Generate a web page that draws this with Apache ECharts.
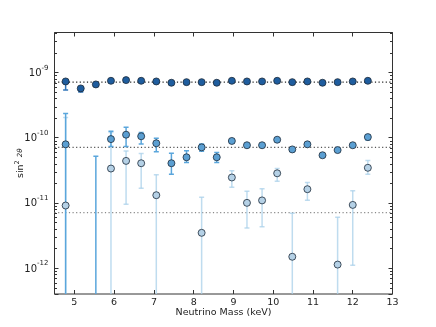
<!DOCTYPE html>
<html><head><meta charset="utf-8">
<script src="https://cdn.jsdelivr.net/npm/echarts@6/dist/echarts.min.js"></script>
<style>html,body{margin:0;padding:0;background:#fff}#c{width:436px;height:327px}</style>
</head><body><div id="c"></div>
<script>
const xValues = [4.78,5.16,5.54,5.92,6.30,6.68,7.06,7.44,7.82,8.20,8.58,8.96,9.34,9.72,10.10,10.48,10.86,11.24,11.62,12.00,12.38];

const darkY  = [7.28e-10,5.69e-10,6.55e-10,7.45e-10,7.63e-10,7.45e-10,7.28e-10,6.95e-10,7.1e-10,7.1e-10,6.95e-10,7.45e-10,7.28e-10,7.28e-10,7.45e-10,7.1e-10,7.28e-10,6.95e-10,7.1e-10,7.28e-10,7.45e-10];
const darkLo = [5.4e-10,5.0e-10,null,null,null,null,null,null,null,null,null,null,null,null,null,null,null,null,null,null,null];
const darkHi = [7.4e-10,6.0e-10,null,null,null,null,null,null,null,null,null,null,null,null,null,null,null,null,null,null,null];

const midY  = [7.9e-11,null,null,9.5e-11,1.11e-10,1.05e-10,8.2e-11,4.05e-11,5.0e-11,7.1e-11,5.0e-11,8.9e-11,7.65e-11,7.65e-11,9.3e-11,6.6e-11,7.9e-11,5.37e-11,6.45e-11,7.65e-11,1.02e-10];
const midLo = [1e-13,null,1e-13,7.3e-11,7.3e-11,8.0e-11,6.1e-11,2.75e-11,4.15e-11,6.2e-11,4.15e-11,8.3e-11,null,null,null,null,null,5.0e-11,null,null,9.2e-11];
const midHi = [2.35e-10,null,5.2e-11,1.25e-10,1.44e-10,1.2e-10,9.8e-11,5.75e-11,6.3e-11,8.0e-11,5.9e-11,9.5e-11,null,null,null,null,null,5.7e-11,null,null,1.1e-10];

const lightY  = [9.1e-12,null,null,3.36e-11,4.4e-11,4.05e-11,1.31e-11,null,null,3.47e-12,null,2.45e-11,1.0e-11,1.09e-11,2.84e-11,1.49e-12,1.62e-11,null,1.13e-12,9.3e-12,3.45e-11];
const lightLo = [1e-13,null,null,1e-13,9.5e-12,1.67e-11,1e-13,null,null,1e-13,null,1.73e-11,4.1e-12,4.3e-12,2.15e-11,1e-13,1.1e-11,null,1e-13,1.1e-12,2.75e-11];
const lightHi = [2.04e-10,null,null,1.2e-10,6.25e-11,5.7e-11,2.69e-11,null,null,1.22e-11,null,3.1e-11,1.51e-11,1.65e-11,3.35e-11,6.95e-12,2.06e-11,null,6.0e-12,1.54e-11,4.45e-11];

const refLevels = [7.1e-10, 7.1e-11, 7.1e-12];
const refColors = ['#222222', '#555555', '#8a8a8a'];

const xTicks = [5,6,7,8,9,10,11,12,13];
const xMin = 4.5, xMax = 13;
const yMin = 4e-13, yMax = 4.1e-9;
const minorMantissas = [2,3,4,5,6,7,8,9];
const minorDecades = [-13,-12,-11,-10,-9];

function pts(ys){ return xValues.map((x,i)=> ys[i]==null ? null : [x, ys[i]]).filter(d=>d); }
function errs(lo,hi){ return xValues.map((x,i)=> lo[i]==null ? null : [x, lo[i], hi[i]]).filter(d=>d); }

const minorVals = [];
minorDecades.forEach(d=>minorMantissas.forEach(m=>{const v=m*Math.pow(10,d); if(v>yMin&&v<yMax) minorVals.push(v);}));

function errSeries(data, color, width, opacity){
  return {
    type:'custom', xAxisIndex:0, yAxisIndex:0, z:2, clip:true, silent:true,
    data: data,
    renderItem: function(params, api){
      const cs = params.coordSys;
      const top = cs.y, bot = cs.y + cs.height;
      const p1 = api.coord([api.value(0), api.value(1)]);
      const p2 = api.coord([api.value(0), api.value(2)]);
      let yl = p1[1], yh = p2[1];
      const children = [];
      const clampL = yl > bot; const clampH = yh < top;
      yl = Math.min(Math.max(yl, top), bot);
      yh = Math.min(Math.max(yh, top), bot);
      const st = {stroke: color, lineWidth: width, opacity: opacity};
      children.push({type:'line', shape:{x1:p1[0], y1:yl, x2:p1[0], y2:yh}, style:st});
      const cw = 2.5;
      if(!clampL) children.push({type:'line', shape:{x1:p1[0]-cw, y1:yl, x2:p1[0]+cw, y2:yl}, style:st});
      if(!clampH) children.push({type:'line', shape:{x1:p1[0]-cw, y1:yh, x2:p1[0]+cw, y2:yh}, style:st});
      return {type:'group', children: children};
    }
  };
}

function scatterSeries(data, fill, z){
  return {type:'scatter', xAxisIndex:0, yAxisIndex:0, z:z, data:data, symbol:'circle', symbolSize:7,
    itemStyle:{color:fill, borderColor:'#1c2a38', borderWidth:0.8, opacity:1}, silent:true, animation:false};
}

const minorTickSeries = {
  type:'custom', xAxisIndex:0, yAxisIndex:0, z:5, silent:true, clip:false,
  data: minorVals.map(v=>[xMin, v]),
  renderItem: function(params, api){
    const cs = params.coordSys;
    const p = api.coord([api.value(0), api.value(1)]);
    const y = Math.round(p[1]) + 0.5;
    const st = {stroke:'#333', lineWidth:1};
    return {type:'group', children:[
      {type:'line', shape:{x1:cs.x, y1:y, x2:cs.x+2.5, y2:y}, style:st},
      {type:'line', shape:{x1:cs.x+cs.width-2.5, y1:y, x2:cs.x+cs.width, y2:y}, style:st}
    ]};
  }
};

const refSeries = refLevels.map((v,i)=>({
  type:'line', xAxisIndex:0, yAxisIndex:0, z:1, silent:true, symbol:'none',
  data:[[xMin, v],[xMax, v]],
  lineStyle:{color:refColors[i], type:[1.2,2.4], width:1.2}
}));

function isDecade(v){ const l=Math.log10(v); return Math.abs(l-Math.round(l))<1e-6; }

const font = 'DejaVu Sans';
const option = {
  animation:false,
  grid:{left:54.5, right:43.5, top:32.5, bottom:33, show:true, borderColor:'#333', borderWidth:1,
    backgroundColor:'transparent', containLabel:false, outerBoundsMode:'none'},
  xAxis:[{
    type:'value', min:xMin, max:xMax, position:'bottom',
    axisLine:{show:false}, splitLine:{show:false},
    axisTick:{inside:true, length:4, lineStyle:{color:'#333'}, customValues:xTicks},
    axisLabel:{margin:4, fontSize:9.5, color:'#222', fontFamily:font, customValues:xTicks},
    name:'Neutrino Mass (keV)', nameLocation:'middle', nameGap:19, nameMoveOverlap:false,
    nameTextStyle:{fontSize:9.5, color:'#222', fontFamily:font, verticalAlign:'middle'}
  },{
    type:'value', min:xMin, max:xMax, position:'top',
    axisLine:{show:false}, splitLine:{show:false},
    axisTick:{inside:true, length:4, lineStyle:{color:'#333'}, customValues:xTicks},
    axisLabel:{show:false}
  }],
  yAxis:[{
    type:'log', logBase:10, min:yMin, max:yMax, position:'left',
    axisLine:{show:false}, splitLine:{show:false},
    axisTick:{inside:true, length:4, lineStyle:{color:'#333'}},
    axisLabel:{margin:6, color:'#222', fontFamily:font,
      formatter: v => isDecade(v) ? '{b|10}{s|' + Math.round(Math.log10(v)) + '}' : '',
      rich:{b:{fontSize:10, fontFamily:font, color:'#222', verticalAlign:'bottom', lineHeight:12},
            s:{fontSize:7, fontFamily:font, color:'#222', verticalAlign:'bottom', lineHeight:12, padding:[0,0,7,0]}}},
    name:'{a|sin}{s|2}{a| }{i|2θ}', nameLocation:'middle', nameGap:34, nameRotate:90, nameMoveOverlap:false,
    nameTextStyle:{verticalAlign:'middle', rich:{a:{fontSize:9.5, fontFamily:font, color:'#222'},
      s:{fontSize:6.5, fontFamily:font, color:'#222', padding:[0,0,6,0]},
      i:{fontSize:7, fontFamily:font, fontStyle:'italic', color:'#222'}}}
  },{
    type:'log', logBase:10, min:yMin, max:yMax, position:'right',
    axisLine:{show:false}, splitLine:{show:false},
    axisTick:{inside:true, length:4, lineStyle:{color:'#333'}},
    axisLabel:{show:false}
  }],
  series:[
    ...refSeries,
    errSeries(errs(lightLo, lightHi), '#a9d0ea', 1.5, 0.75),
    errSeries(errs(midLo, midHi), '#5aa6dc', 1.5, 1),
    errSeries(errs(darkLo, darkHi), '#2f74b8', 1.5, 1),
    scatterSeries(pts(lightY), '#b5d1e6', 3),
    scatterSeries(pts(midY), '#5b9fd2', 4),
    scatterSeries(pts(darkY), '#1f5d9e', 5),
    minorTickSeries
  ]
};
const chart = echarts.init(document.getElementById('c'), null, {renderer:'canvas'});
chart.setOption(option);
</script></body></html>
